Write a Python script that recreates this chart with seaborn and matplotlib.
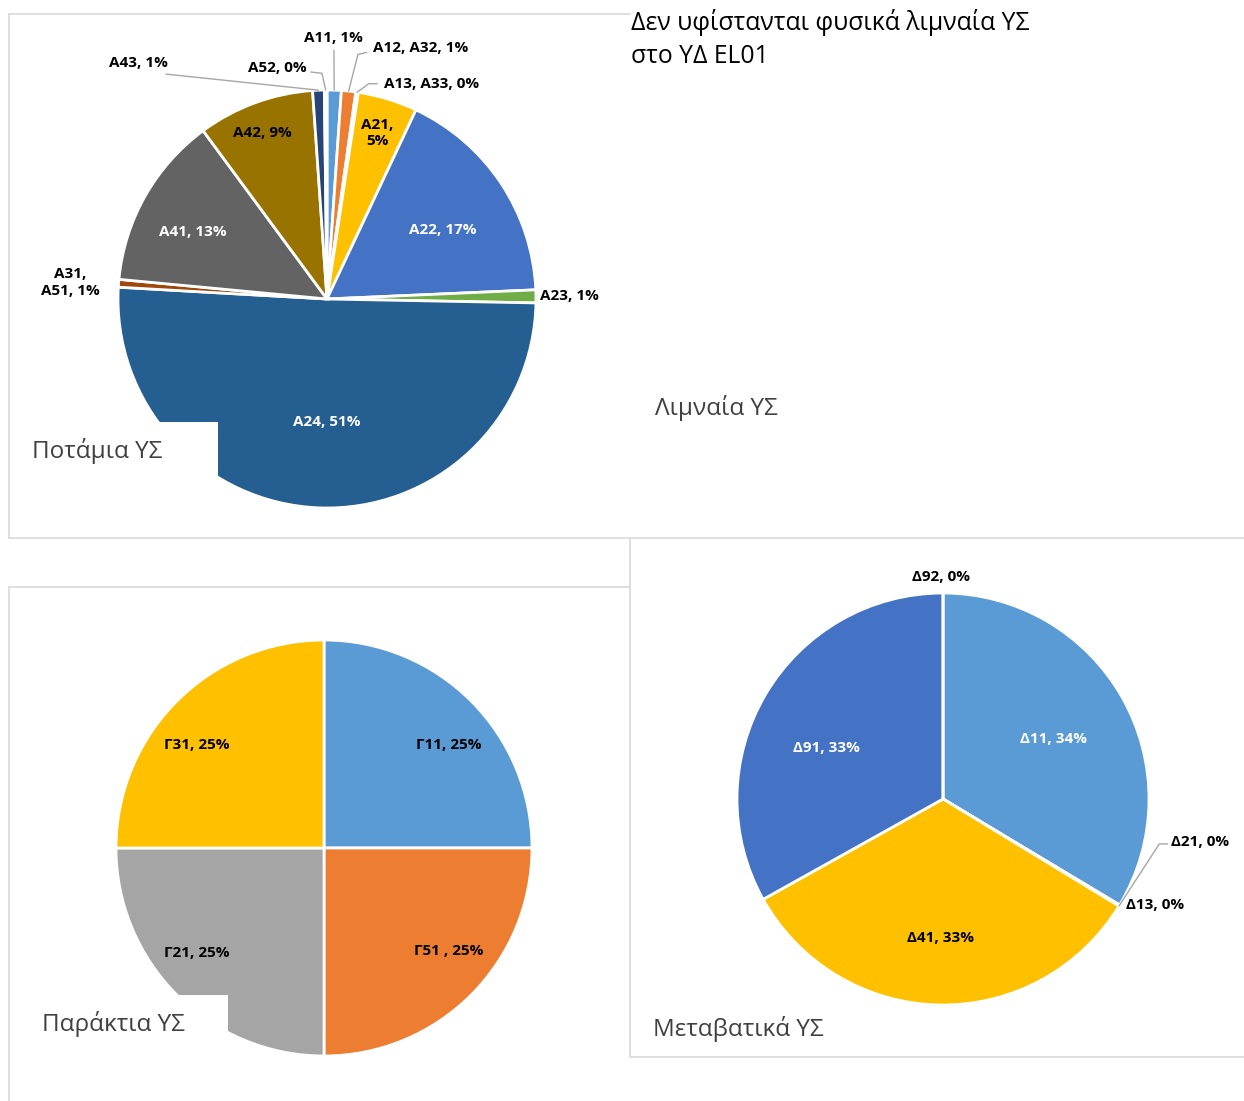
import numpy as np
import matplotlib.pyplot as plt
from matplotlib.lines import Line2D
from matplotlib.patches import Rectangle
import seaborn as sns

# River water bodies (Ποτάμια ΥΣ) - shares in %
river_names = ["A11", "A12, A32", "A13, A33", "A21", "A22", "A23", "A24",
               "A31,\nA51", "A41", "A42", "A43", "A52"]
river_values = [1.1, 1.1, 0.2, 4.6, 17.3, 1.0, 50.6, 0.6, 13.4, 9.0, 0.9, 0.2]
river_colors = ["#5B9BD5", "#ED7D31", "#A5A5A5", "#FFC000", "#4472C4", "#70AD47",
                "#255E91", "#9E480E", "#636363", "#997300", "#264478", "#43682B"]

# Coastal water bodies (Παράκτια ΥΣ)
coast_names = ["Γ11", "Γ51 ", "Γ21", "Γ31"]
coast_values = [25, 25, 25, 25]
coast_colors = ["#5B9BD5", "#ED7D31", "#A5A5A5", "#FFC000"]

# Transitional water bodies (Μεταβατικά ΥΣ)
trans_names = ["Δ11", "Δ13", "Δ21", "Δ41", "Δ91", "Δ92"]
trans_values = [33.6, 0.05, 0.05, 33.2, 33.1, 0.0]
trans_colors = ["#5B9BD5", "#ED7D31", "#A5A5A5", "#FFC000", "#4472C4", "#70AD47"]

sns.set_theme(style="white")
plt.rcParams['font.family'] = ['Open Sans', 'DejaVu Sans']

W, H = 1244, 1101
fig = plt.figure(figsize=(W / 100, H / 100), dpi=100)


def pie_axes(cx, cy, r):
    return fig.add_axes([(cx - r) / W, 1 - (cy + r) / H, 2 * r / W, 2 * r / H])


def draw_pie(ax, names, values, colors, label_cfg):
    wedges, _ = ax.pie(values, colors=colors, startangle=90, counterclock=False,
                       wedgeprops=dict(edgecolor="white", linewidth=2))
    ax.set_xlim(-1, 1)
    ax.set_ylim(-1, 1)
    for i, (w, name, v) in enumerate(zip(wedges, names, values)):
        cfg = label_cfg[i]
        mid = np.deg2rad((w.theta1 + w.theta2) / 2)
        if "rf" in cfg:
            x, y = cfg["rf"] * np.cos(mid), cfg["rf"] * np.sin(mid)
        else:
            x, y = cfg["xy"]
        if "lead" in cfg:
            pts = [(np.cos(mid), np.sin(mid))] + cfg["lead"]
            ax.plot([p[0] for p in pts], [p[1] for p in pts], color="#A6A6A6",
                    lw=1, clip_on=False, zorder=1)
        sep = "\n" if cfg.get("wrap") else " "
        txt = f"{name},{sep}{v:.0f}%"
        ax.text(x, y, txt, ha="center", va="center", fontsize=11, fontweight="bold",
                color=cfg.get("c", "black"), clip_on=False, linespacing=1.25)


# panel frames
frame_c = "#D9D9D9"
for xs, ys in [([9, 630], [14, 14]), ([9, 9], [14, 538]), ([9, 1244], [538, 538]),
               ([9, 630], [587, 587]), ([9, 9], [587, 1101]),
               ([630, 630], [538, 1057]), ([630, 1244], [1057, 1057])]:
    fig.add_artist(Line2D([x / W for x in xs], [1 - y / H for y in ys],
                          color=frame_c, lw=1.2))

# river pie
ax1 = pie_axes(327, 299, 209)
river_cfg = [
    {"xy": (0.03, 1.25), "lead": [(0.033, 1.19)]},
    {"xy": (0.45, 1.20), "lead": [(0.148, 1.17), (0.19, 1.18)]},
    {"xy": (0.50, 1.03), "lead": [(0.20, 1.03), (0.24, 1.03)]},
    {"rf": 0.83, "wrap": True},
    {"xy": (0.555, 0.33), "c": "white"},
    {"xy": (1.16, 0.014)},
    {"xy": (0.0, -0.59), "c": "white"},
    {"xy": (-1.23, 0.08)},
    {"xy": (-0.64, 0.32), "c": "white"},
    {"xy": (-0.31, 0.795)},
    {"xy": (-0.90, 1.13), "lead": [(-0.77, 1.076)]},
    {"xy": (-0.24, 1.105), "lead": [(-0.024, 1.08), (-0.077, 1.086)]},
]
draw_pie(ax1, river_names, river_values, river_colors, river_cfg)

# coastal pie
ax2 = pie_axes(324, 848, 208)
coast_cfg = [{"xy": (0.60, 0.495)}, {"xy": (0.60, -0.495)},
             {"xy": (-0.61, -0.505)}, {"xy": (-0.61, 0.495)}]
draw_pie(ax2, coast_names, coast_values, coast_colors, coast_cfg)

# transitional pie
ax3 = pie_axes(943, 799, 206)
trans_cfg = [
    {"xy": (0.534, 0.29), "c": "white"},
    {"xy": (1.03, -0.515)},
    {"xy": (1.25, -0.21), "lead": [(1.05, -0.218), (1.09, -0.218)]},
    {"rf": 0.675},
    {"xy": (-0.568, 0.248), "c": "white"},
    {"xy": (-0.01, 1.08)},
]
draw_pie(ax3, trans_names, trans_values, trans_colors, trans_cfg)

# white text boxes covering part of the pies, as in the source layout
fig.add_artist(Rectangle((10 / W, 1 - 537 / H), 208 / W, 115 / H,
                         facecolor="white", edgecolor="none", zorder=5))
fig.add_artist(Rectangle((10 / W, 1 - 1101 / H), 218 / W, 106 / H,
                         facecolor="white", edgecolor="none", zorder=5))

title_kw = dict(fontsize=17.5, color="#404040", va="center", ha="left", zorder=6)
fig.text(32 / W, 1 - 451 / H, "Ποτάμια ΥΣ", **title_kw)
fig.text(42 / W, 1 - 1024 / H, "Παράκτια ΥΣ", **title_kw)
fig.text(655 / W, 1 - 408 / H, "Λιμναία ΥΣ", **title_kw)
fig.text(653 / W, 1 - 1029 / H, "Μεταβατικά ΥΣ", **title_kw)
fig.text(631 / W, 1 - 39 / H, "Δεν υφίστανται φυσικά λιμναία ΥΣ\nστο ΥΔ EL01",
         fontsize=17.8, color="black", va="center", ha="left", linespacing=1.4, zorder=6)

fig.savefig("out.png", dpi=100)
